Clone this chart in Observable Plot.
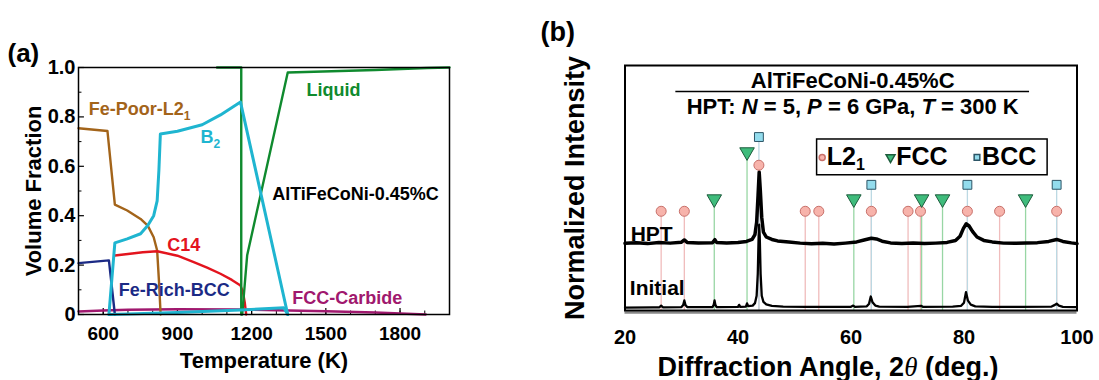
<!DOCTYPE html>
<html><head><meta charset="utf-8">
<script src="https://cdn.jsdelivr.net/npm/d3@7"></script>
<script src="https://cdn.jsdelivr.net/npm/@observablehq/plot@0.6"></script>
<style>
body{margin:0;background:#fff;width:1099px;height:380px;position:relative;overflow:hidden;font-family:"Liberation Sans",Arial,sans-serif;}
#pa{position:absolute;left:0;top:0;}
#pb{position:absolute;left:530px;top:0;}
svg{overflow:visible}
</style></head><body>
<div id="pa"></div><div id="pb"></div>
<script>
// ---------- Panel (a): volume fraction vs temperature ----------
const tempTicks = [600, 900, 1200, 1500, 1800];
const tempMinor = [500, 600, 700, 800, 900, 1000, 1100, 1200, 1300, 1400, 1500, 1600, 1700, 1800, 1900, 2000];
const fracTicks = [0, 0.2, 0.4, 0.6, 0.8, 1.0];
const fracMinor = [0.1, 0.3, 0.5, 0.7, 0.9];

const feRichBCC = [[500,0.208],[623,0.219],[647,0]];
const fePoorL21 = [[500,0.754],[617,0.743],[647,0.445],[697,0.421],[751,0.387],[780,0.36],[804,0.313],[818,0.259],[826,0.124],[832,0]];
const b2Main = [[623,0],[647,0.29],[697,0.306],[751,0.327],[780,0.36],[804,0.40],[818,0.46],[825,0.583],[831,0.731],[900,0.742],[1000,0.768],[1074,0.808],[1155,0.86],[1346,0]];
const b2Minor = [[623,0],[700,0.002],[900,0.008],[1155,0.018],[1330,0.027],[1346,0]];
const c14 = [[647,0.239],[700,0.245],[760,0.252],[818,0.256],[900,0.238],[966,0.212],[1020,0.19],[1074,0.165],[1120,0.14],[1155,0.117],[1165,0.09],[1172,0.05],[1178,0]];
const liquidA = [[1060,1.0],[1158,1.0],[1158,0]];
const liquidB = [[1162,0],[1182,0.24],[1346,0.98],[1700,0.99],[1910,0.998],[2000,1.0]];
const fccCarbide = [[500,0.012],[600,0.016],[700,0.019],[900,0.021],[1160,0.02],[1350,0.016],[1500,0.013],[1700,0.008],[1904,0]];

// ---------- Panel (b): XRD patterns ----------
const angleTicks = [20, 40, 60, 80, 100];
const initialXRD = [[20,1.2],[25,1.3],[26.1,1.3],[26.4,2.0],[26.7,1.3],[30.0,1.4],[30.3,2.2],[30.5,4.1],[30.7,2.2],[31.0,1.4],[35.5,1.4],[35.7,2.3],[35.85,4.1],[36.0,2.3],[36.2,1.4],[40.0,1.5],[40.2,2.3],[40.4,1.5],[41.4,1.6],[41.6,2.9],[41.8,1.8],[42.6,2.0],[43.0,3.0],[43.3,6],[43.5,15],[43.65,30],[43.75,35],[43.85,30],[44.0,15],[44.2,6],[44.5,3.5],[45,2.5],[46,1.9],[48,1.6],[52,1.5],[55,1.5],[60,1.5],[60.4,2.0],[60.7,1.5],[62.8,1.7],[63.2,2.8],[63.5,5.7],[63.8,3.4],[64.3,2.0],[65,1.6],[70,1.5],[72.4,1.9],[72.7,1.5],[78,1.6],[79.5,1.9],[80.0,3.2],[80.35,7.5],[80.7,4.0],[81.2,2.4],[82,1.7],[85,1.5],[90,1.5],[95.5,1.6],[96.1,2.3],[96.4,2.8],[96.8,2.0],[97.5,1.5],[100,1.4]];
const hptXRD = [[20,27.4],[22,27.7],[24,27.3],[26,27.8],[28,27.5],[30,27.9],[30.5,28.8],[31,27.8],[33,27.6],[35.5,27.7],[35.9,28.9],[36.2,27.8],[38,27.6],[40,27.8],[41.5,28.2],[42.5,29],[43,31],[43.3,36],[43.55,47],[43.75,56.5],[43.95,49],[44.2,38],[44.5,32],[45,30],[46,29],[47,28.4],[49,28],[51,27.5],[53,27.2],[55,27.4],[57,27.1],[59,27.5],[61,28],[62.5,28.9],[63.6,29.5],[64.5,29.2],[65.5,28.3],[67,27.6],[69,27.3],[71,27.6],[73,27.3],[75,27.5],[77,27.8],[78.5,28.6],[79.3,30.3],[79.9,33.5],[80.4,35.4],[80.9,34.5],[81.5,32.3],[82.3,30],[83.5,28.6],[85,28],[87,27.5],[89,27.4],[91,27.6],[93,27.7],[95,28.2],[96.4,29],[97.5,28.2],[99,27.6],[100,27.3]];
const l21Angles = [26.4, 30.5, 43.7, 51.9, 54.3, 63.6, 70.1, 72.3, 80.6, 86.3, 96.4];
const l21Marks  = [40.5, 40.5, 59.3, 40.5, 40.5, 40.5, 40.5, 40.5, 40.5, 40.5, 40.5];
const fccAngles = [35.8, 41.6, 60.5, 72.5, 76.2, 90.9];
const fccMarks  = [45.5, 64.7, 45.5, 45.5, 45.5, 45.5];
const bccAngles = [43.7, 63.6, 80.6, 96.4];
const bccMarks  = [70.8, 51.3, 51.3, 51.3];
const legendLabels = ["L21", "FCC", "BCC"];

const FONT = '"Liberation Sans", Arial, Helvetica, sans-serif';
const X = d => d[0], Y = d => d[1];

const A = Plot.plot({
  width: 470, height: 380,
  marginLeft: 78, marginTop: 67, marginRight: 21, marginBottom: 66,
  x: {domain: [500, 2000]},
  y: {domain: [0, 1]},
  style: {fontFamily: FONT, fontWeight: "bold", fontSize: "18px", background: "white", color: "black"},
  marks: [
    Plot.axisX(tempTicks, {tickSize: 0, tickPadding: 12, fontSize: 19, fontWeight: "bold", label: null, tickFormat: d => String(d)}),
    Plot.axisY(fracTicks, {tickSize: 0, tickPadding: 3, fontSize: 20, fontWeight: "bold", label: null, tickFormat: d => d === 0 ? "0" : d.toFixed(1)}),
    Plot.ruleX(tempMinor, {y1: 0, y2: 0.014, stroke: "black", strokeWidth: 1}),
    Plot.ruleX(tempTicks, {y1: 0, y2: 0.024, stroke: "black", strokeWidth: 1.2}),
    Plot.ruleY(fracMinor, {x1: 500, x2: 514, stroke: "black", strokeWidth: 1}),
    Plot.ruleY(fracTicks, {x1: 500, x2: 524, stroke: "black", strokeWidth: 1.2}),
    Plot.line(fccCarbide, {x: X, y: Y, stroke: "#a0186e", strokeWidth: 2.4}),
    Plot.line(feRichBCC, {x: X, y: Y, stroke: "#1b2a85", strokeWidth: 2.4}),
    Plot.line(fePoorL21, {x: X, y: Y, stroke: "#a3641a", strokeWidth: 2.4}),
    Plot.line(c14, {x: X, y: Y, stroke: "#e3141e", strokeWidth: 2.4}),
    Plot.line(liquidA, {x: X, y: Y, stroke: "#0f8a2e", strokeWidth: 2.4}),
    Plot.line(liquidB, {x: X, y: Y, stroke: "#0f8a2e", strokeWidth: 2.4}),
    Plot.line(b2Minor, {x: X, y: Y, stroke: "#1fb5d0", strokeWidth: 3}),
    Plot.line(b2Main, {x: X, y: Y, stroke: "#1fb5d0", strokeWidth: 3}),
    Plot.frame({stroke: "black", strokeWidth: 1.5}),
    Plot.text(["Fe-Poor-L21"], {x: 541, y: 0.832, textAnchor: "start", fill: "#a3641a", fontSize: 18, fontWeight: "bold"}),
    Plot.text(["B2"], {x: 993, y: 0.717, textAnchor: "start", fill: "#1fb5d0", fontSize: 18, fontWeight: "bold"}),
    Plot.text(["Liquid"], {x: 1422, y: 0.906, textAnchor: "start", fill: "#0f8a2e", fontSize: 18, fontWeight: "bold"}),
    Plot.text(["AlTiFeCoNi-0.45%C"], {x: 1283, y: 0.488, textAnchor: "start", fill: "black", fontSize: 18, fontWeight: "bold"}),
    Plot.text(["C14"], {x: 859, y: 0.279, textAnchor: "start", fill: "#e3141e", fontSize: 18, fontWeight: "bold"}),
    Plot.text(["Fe-Rich-BCC"], {x: 663, y: 0.097, textAnchor: "start", fill: "#1b2a85", fontSize: 18, fontWeight: "bold"}),
    Plot.text(["FCC-Carbide"], {x: 1364, y: 0.064, textAnchor: "start", fill: "#a0186e", fontSize: 18, fontWeight: "bold"}),
    Plot.text(["Temperature (K)"], {frameAnchor: "bottom", dy: 46, lineAnchor: "middle", textAnchor: "middle", fontSize: 22, fontWeight: "bold"}),
    Plot.text(["Volume Fraction"], {frameAnchor: "left", dx: -45, rotate: -90, lineAnchor: "middle", textAnchor: "middle", fontSize: 22, fontWeight: "bold"}),
    Plot.text(["(a)"], {frameAnchor: "top-left", dx: -71, dy: -14, textAnchor: "start", lineAnchor: "middle", fontSize: 26, fontWeight: "bold"})
  ]
});
document.getElementById("pa").appendChild(A);

const l21 = l21Angles.map((a, i) => ({a, h: l21Marks[i]}));
const fcc = fccAngles.map((a, i) => ({a, h: fccMarks[i]}));
const bcc = bccAngles.map((a, i) => ({a, h: bccMarks[i]}));

const B = Plot.plot({
  width: 569, height: 380,
  marginLeft: 94.5, marginRight: 22.5, marginTop: 65, marginBottom: 70,
  x: {domain: [20, 100]},
  y: {domain: [0, 100], axis: null},
  style: {fontFamily: FONT, fontWeight: "bold", fontSize: "20px", background: "white", color: "black"},
  marks: [
    Plot.axisX(angleTicks, {tickSize: 0, tickPadding: 19, fontSize: 20, fontWeight: "bold", label: null, tickFormat: d => String(d)}),
    Plot.ruleX(l21, {x: "a", y1: 0, y2: "h", stroke: "#f0bcbc", strokeWidth: 1.3}),
    Plot.ruleX(fcc, {x: "a", y1: 0, y2: "h", stroke: "#98d6a4", strokeWidth: 1.3}),
    Plot.ruleX(bcc, {x: "a", y1: 0, y2: "h", stroke: "#bcd9e3", strokeWidth: 1.3}),
    Plot.line(initialXRD, {x: X, y: Y, stroke: "black", strokeWidth: 2.3}),
    Plot.line(hptXRD, {x: X, y: Y, stroke: "black", strokeWidth: 3.5}),
    Plot.dot(l21, {x: "a", y: "h", r: 5, fill: "#f7b3ab", stroke: "#c8706a", strokeWidth: 1}),
    Plot.dot(fcc, {x: "a", y: "h", symbol: "triangle", rotate: 180, r: 5.4, fill: "#3fbc7c", stroke: "#1d5c3c", strokeWidth: 1}),
    Plot.dot(bcc, {x: "a", y: "h", symbol: "square", r: 5, fill: "#93dced", stroke: "#2d5566", strokeWidth: 1}),
    Plot.ruleY([0], {stroke: "#888", strokeWidth: 2.5, dy: 2}),
    Plot.frame({stroke: "black", strokeWidth: 2}),
    Plot.text(["AlTiFeCoNi-0.45%C"], {x: 60.3, y: 93.8, fontSize: 22, fontWeight: "bold"}),
    Plot.ruleY([89.4], {x1: 29.0, x2: 91.6, stroke: "black", strokeWidth: 1.5}),
    Plot.text(["HPT: N = 5, P = 6 GPa, T = 300 K"], {x: 60.3, y: 82.9, fontSize: 22, fontWeight: "bold"}),
    Plot.rect([0], {x1: 54, x2: 94.8, y1: 55.2, y2: 69.8, fill: "white", stroke: "black", strokeWidth: 1.5}),
    Plot.dot([legendLabels[0]], {x: 54.9, y: 62.5, r: 3, fill: "#f7b3ab", stroke: "#c8706a"}),
    Plot.dot([legendLabels[1]], {x: 67.0, y: 62.5, symbol: "triangle", rotate: 180, r: 3.3, fill: "#3fbc7c", stroke: "#1d5c3c"}),
    Plot.dot([legendLabels[2]], {x: 82.3, y: 62.5, symbol: "square", r: 3.2, fill: "#93dced", stroke: "#2d5566"}),
    Plot.text([legendLabels[0]], {x: 55.7, y: 62.5, textAnchor: "start", fontSize: 25, fontWeight: "bold"}),
    Plot.text([legendLabels[1]], {x: 68.0, y: 62.5, textAnchor: "start", fontSize: 25, fontWeight: "bold"}),
    Plot.text([legendLabels[2]], {x: 83.2, y: 62.5, textAnchor: "start", fontSize: 25, fontWeight: "bold"}),
    Plot.text(["HPT"], {x: 21.0, y: 31.3, textAnchor: "start", fontSize: 21, fontWeight: "bold"}),
    Plot.text(["Initial"], {x: 20.85, y: 8.9, textAnchor: "start", fontSize: 21, fontWeight: "bold"}),
    Plot.text(["Diffraction Angle, 2θ (deg.)"], {frameAnchor: "bottom", dx: -23, dy: 57, lineAnchor: "middle", textAnchor: "middle", fontSize: 27, fontWeight: "bold"}),
    Plot.text(["Normalized Intensity"], {frameAnchor: "left", dx: -49.5, rotate: -90, lineAnchor: "middle", textAnchor: "middle", fontSize: 27, fontWeight: "bold"}),
    Plot.text(["(b)"], {frameAnchor: "top-left", dx: -84.5, dy: -33, textAnchor: "start", lineAnchor: "middle", fontSize: 27, fontWeight: "bold"})
  ]
});
document.getElementById("pb").appendChild(B);

// rich text: italics, subscripts, serif theta
function rich(svg, key, parts) {
  d3.select(svg).selectAll("text").filter(function () { return this.textContent === key; }).each(function () {
    const t = d3.select(this);
    t.text(null);
    let shift = 0;
    for (const p of parts) {
      const s = t.append("tspan").text(p.t);
      if (p.i) s.attr("font-style", "italic");
      if (p.serif) s.attr("font-family", '"Liberation Serif", "Times New Roman", serif').attr("font-weight", "normal");
      if (p.sub) { s.attr("font-size", p.sub).attr("dy", 5 - shift); shift = 5; }
      else if (shift) { s.attr("dy", -shift); shift = 0; }
    }
  });
}
rich(A, "Fe-Poor-L21", [{t: "Fe-Poor-L2"}, {t: "1", sub: 12}]);
rich(A, "B2", [{t: "B"}, {t: "2", sub: 12}]);
rich(B, "L21", [{t: "L2"}, {t: "1", sub: 16}]);
rich(B, "HPT: N = 5, P = 6 GPa, T = 300 K", [{t: "HPT: "}, {t: "N", i: 1}, {t: " = 5, "}, {t: "P", i: 1}, {t: " = 6 GPa, "}, {t: "T", i: 1}, {t: " = 300 K"}]);
rich(B, "Diffraction Angle, 2θ (deg.)", [{t: "Diffraction Angle, 2"}, {t: "θ", i: 1, serif: 1}, {t: " (deg.)"}]);
</script></body></html>
